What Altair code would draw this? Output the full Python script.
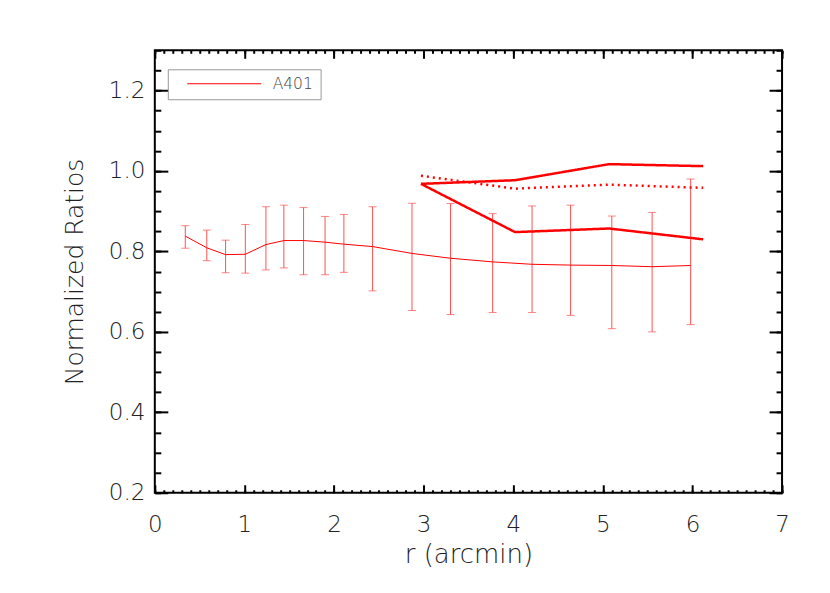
import altair as alt
import pandas as pd

# radial bins (arcmin) and normalized ratio with error range
r = [0.34, 0.58, 0.79, 1.01, 1.24, 1.44, 1.66, 1.90, 2.11, 2.43, 2.87, 3.30, 3.77, 4.21, 4.64, 5.10, 5.55, 5.98]
ratio = [0.838, 0.809, 0.792, 0.793, 0.817, 0.827, 0.827, 0.823, 0.818, 0.812, 0.795, 0.783, 0.774, 0.768, 0.766, 0.765, 0.762, 0.765]
hi = [0.864, 0.853, 0.828, 0.867, 0.911, 0.915, 0.909, 0.887, 0.892, 0.911, 0.920, 0.919, 0.894, 0.913, 0.915, 0.888, 0.897, 0.980]
lo = [0.808, 0.777, 0.747, 0.746, 0.754, 0.759, 0.742, 0.742, 0.748, 0.702, 0.653, 0.643, 0.648, 0.648, 0.641, 0.608, 0.600, 0.618]

# thick model curves
r2 = [2.97, 4.02, 5.07, 6.12]
upper = [0.968, 0.977, 1.017, 1.012]
lower = [0.968, 0.848, 0.857, 0.830]
dotted = [0.988, 0.956, 0.966, 0.958]

x_major = [0, 1, 2, 3, 4, 5, 6, 7]
x_minor = [round(i * 0.1, 2) for i in range(0, 71)]
y_major = [0.2, 0.4, 0.6, 0.8, 1.0, 1.2]
y_minor = [round(0.2 + i * 0.05, 3) for i in range(0, 23)]

df = pd.DataFrame({"r": r, "ratio": ratio, "hi": hi, "lo": lo, "series": ["A401"] * len(r)})
caps = pd.DataFrame({"r": r + r, "y": hi + lo})
thick = pd.DataFrame({
    "r": r2 * 3,
    "y": upper + lower + dotted,
    "line": ["upper"] * 4 + ["lower"] * 4 + ["dotted"] * 4,
})

FONT = "DejaVu Sans"
TXT = "#222222"
W = 200
XS = alt.Scale(domain=[0, 7], nice=False, zero=False)
YS = alt.Scale(domain=[0.2, 1.3], nice=False, zero=False)


def tick_axis(orient, size, values, **kw):
    base = dict(orient=orient, offset=-size, tickSize=size, values=values, domain=False,
                grid=False, labels=False, tickColor="black", tickWidth=2)
    base.update(kw)
    return alt.Axis(**base)


x_bottom = tick_axis("bottom", 8, x_major, labels=True, labelFont=FONT, labelFontSize=23,
                     labelFontWeight=W,
                     labelColor=TXT, labelPadding=21, labelFlush=False,
                     titleFont=FONT, titleFontSize=26, titleFontWeight=W, titleColor=TXT,
                     titleY=78, titleBaseline="alphabetic")
y_left = tick_axis("left", 13, y_major, labels=True, labelFont=FONT, labelFontSize=23,
                   labelFontWeight=W,
                   labelColor=TXT, labelPadding=10, labelFlush=False, format=".1f",
                   titleFont=FONT, titleFontSize=25, titleFontWeight=W, titleColor=TXT,
                   titleX=-85, titleBaseline="alphabetic")

err = alt.Chart(df).mark_rule(color="#ff5050", strokeWidth=1).encode(
    x=alt.X("r:Q", scale=XS, axis=x_bottom, title="r (arcmin)"),
    y=alt.Y("lo:Q", scale=YS, axis=y_left, title="Normalized Ratios"),
    y2="hi:Q",
)

capmarks = alt.Chart(caps).mark_tick(color="#ff5050", orient="horizontal", size=8, thickness=1).encode(
    x=alt.X("r:Q", scale=XS, axis=tick_axis("bottom", 3, x_minor), title=None),
    y=alt.Y("y:Q", scale=YS, axis=tick_axis("left", 6, y_minor), title=None),
)

thin = alt.Chart(df).mark_line(strokeWidth=1).encode(
    x=alt.X("r:Q", scale=XS, axis=tick_axis("top", 8, x_major), title=None),
    y=alt.Y("ratio:Q", scale=YS, axis=tick_axis("right", 13, y_major), title=None),
    color=alt.Color("series:N", scale=alt.Scale(domain=["A401"], range=["red"]),
                    legend=alt.Legend(orient="none", legendX=13, legendY=19, title=None,
                                      symbolType="stroke", symbolSize=5476, symbolStrokeWidth=1,
                                      labelFont=FONT, labelFontSize=15.5, labelFontWeight=W,
                                      labelColor="#444444",
                                      labelOffset=11, padding=7, strokeColor="#999999",
                                      symbolOffset=12, clipHeight=15)),
)

thk = alt.Chart(thick).mark_line(color="red", strokeWidth=2.5).encode(
    x=alt.X("r:Q", scale=XS, axis=tick_axis("top", 3, x_minor), title=None),
    y=alt.Y("y:Q", scale=YS, axis=tick_axis("right", 6, y_minor), title=None),
    strokeDash=alt.StrokeDash("line:N",
                              scale=alt.Scale(domain=["upper", "lower", "dotted"],
                                              range=[[1, 0], [1, 0], [2, 4]]),
                              legend=None),
)

chart = alt.layer(err, capmarks, thin, thk).resolve_axis(x="independent", y="independent").properties(
    width=628, height=443,
    autosize=alt.AutoSizeParams(type="none"),
    padding={"left": 147, "top": 42, "right": 40, "bottom": 92},
).configure_view(stroke="black", strokeWidth=2).configure_axis(grid=False)

chart.save("out.html", embed_options={"renderer": "svg", "actions": False})
